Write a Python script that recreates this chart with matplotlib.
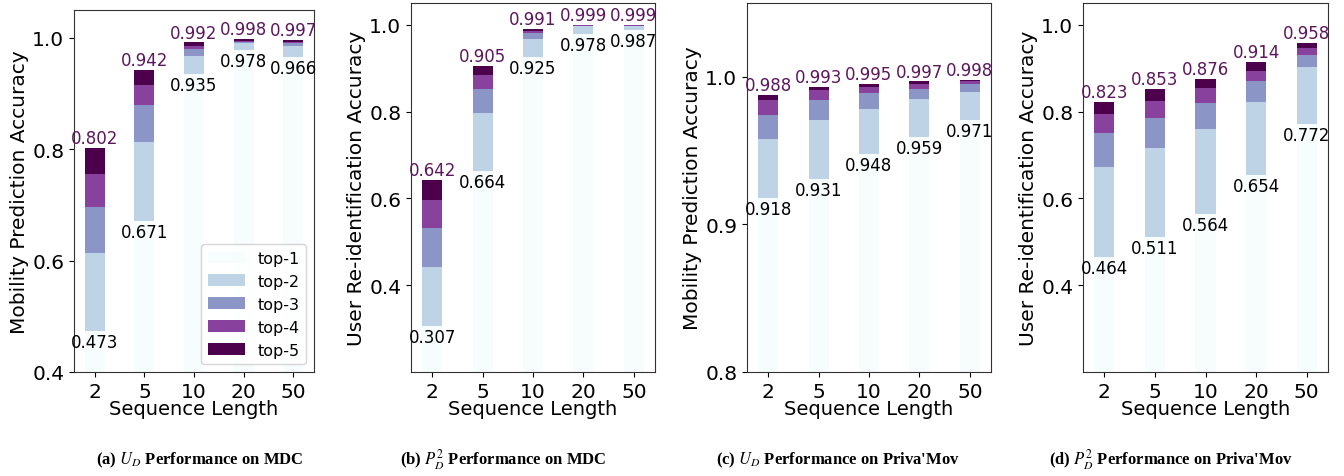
import matplotlib.pyplot as plt
import numpy as np

plt.rcParams['font.family'] = 'DejaVu Sans'
plt.rcParams['mathtext.fontset'] = 'stix'

seq_lengths = ['2', '5', '10', '20', '50']
series_names = ['top-1', 'top-2', 'top-3', 'top-4', 'top-5']
colors = ['#f7fcfd', '#bfd3e6', '#8c96c6', '#88419d', '#4d004b']

# cumulative top-k accuracy for each sequence length
mdc_util = {
    'top-1': [0.473, 0.671, 0.935, 0.978, 0.966],
    'top-2': [0.613, 0.813, 0.968, 0.991, 0.985],
    'top-3': [0.697, 0.879, 0.980, 0.993, 0.990],
    'top-4': [0.756, 0.915, 0.985, 0.995, 0.993],
    'top-5': [0.802, 0.942, 0.992, 0.998, 0.997],
}
mdc_priv = {
    'top-1': [0.307, 0.664, 0.925, 0.978, 0.987],
    'top-2': [0.442, 0.797, 0.968, 0.997, 0.997],
    'top-3': [0.532, 0.852, 0.982, 0.998, 0.998],
    'top-4': [0.596, 0.885, 0.986, 0.9985, 0.9985],
    'top-5': [0.642, 0.905, 0.991, 0.999, 0.999],
}
priva_util = {
    'top-1': [0.918, 0.931, 0.948, 0.959, 0.971],
    'top-2': [0.958, 0.971, 0.978, 0.985, 0.990],
    'top-3': [0.974, 0.984, 0.989, 0.992, 0.995],
    'top-4': [0.984, 0.991, 0.993, 0.995, 0.997],
    'top-5': [0.988, 0.993, 0.995, 0.997, 0.998],
}
priva_priv = {
    'top-1': [0.464, 0.511, 0.564, 0.654, 0.772],
    'top-2': [0.672, 0.716, 0.760, 0.822, 0.903],
    'top-3': [0.751, 0.785, 0.820, 0.871, 0.931],
    'top-4': [0.795, 0.825, 0.855, 0.894, 0.947],
    'top-5': [0.823, 0.853, 0.876, 0.914, 0.958],
}

panels = [
    (mdc_util, 'Mobility Prediction Accuracy', (0.4, 1.05), [0.4, 0.6, 0.8, 1.0],
     r'(a) $\mathbf{\mathit{U_D}}$ Performance on MDC'),
    (mdc_priv, 'User Re-identification Accuracy', (0.2, 1.05), [0.4, 0.6, 0.8, 1.0],
     r'(b) $\mathbf{\mathit{P_D^2}}$ Performance on MDC'),
    (priva_util, 'Mobility Prediction Accuracy', (0.8, 1.05), [0.8, 0.9, 1.0],
     r"(c) $\mathbf{\mathit{U_D}}$ Performance on Priva'Mov"),
    (priva_priv, 'User Re-identification Accuracy', (0.2, 1.05), [0.4, 0.6, 0.8, 1.0],
     r"(d) $\mathbf{\mathit{P_D^2}}$ Performance on Priva'Mov"),
]

W, H = 1344, 477
fig = plt.figure(figsize=(W / 100, H / 100), dpi=100)
# axes boxes in pixels: left, top, right, bottom
boxes = [(74, 11, 314, 373), (411, 4, 655, 373), (747, 4, 991, 373), (1083, 4, 1328, 373)]
caption_x = [200, 503, 838, 1171]

x = np.arange(len(seq_lengths))
width = 0.4

for (data, ylabel, ylim, yticks, caption), (l, t, r, b), cx in zip(panels, boxes, caption_x):
    ax = fig.add_axes([l / W, 1 - b / H, (r - l) / W, (b - t) / H])
    bottom = np.zeros(len(x))
    for name, c in zip(series_names, colors):
        vals = np.array(data[name])
        ax.bar(x, vals - bottom, width, bottom=bottom, color=c, label=name)
        bottom = vals
    for xi, v in zip(x, data['top-1']):
        ax.annotate(f'{v:.3f}', (xi, v), xytext=(0, -1.5), textcoords='offset points',
                    ha='center', va='top', fontsize=12, color='black')
    for xi, v in zip(x, data['top-5']):
        ax.annotate(f'{v:.3f}', (xi, v), xytext=(0, 0.5), textcoords='offset points',
                    ha='center', va='bottom', fontsize=12, color='#5c175c')
    ax.set_ylim(*ylim)
    ax.set_yticks(yticks)
    ax.set_xticks(x)
    ax.set_xticklabels(seq_lengths)
    ax.tick_params(labelsize=14.5)
    ax.set_ylabel(ylabel, fontsize=14.5, labelpad=2)
    ax.set_xlabel('Sequence Length', fontsize=14, labelpad=-1)
    for s in ax.spines.values():
        s.set_color('#333333')
    fig.text(cx / W, 1 - 460 / H, caption, ha='center', va='center',
             fontsize=12, fontweight='bold', family='Liberation Serif')
    if data is mdc_util:
        ax.legend(loc='lower right', fontsize=11.5, handlelength=2.3)

fig.savefig('out.png', dpi=100)
